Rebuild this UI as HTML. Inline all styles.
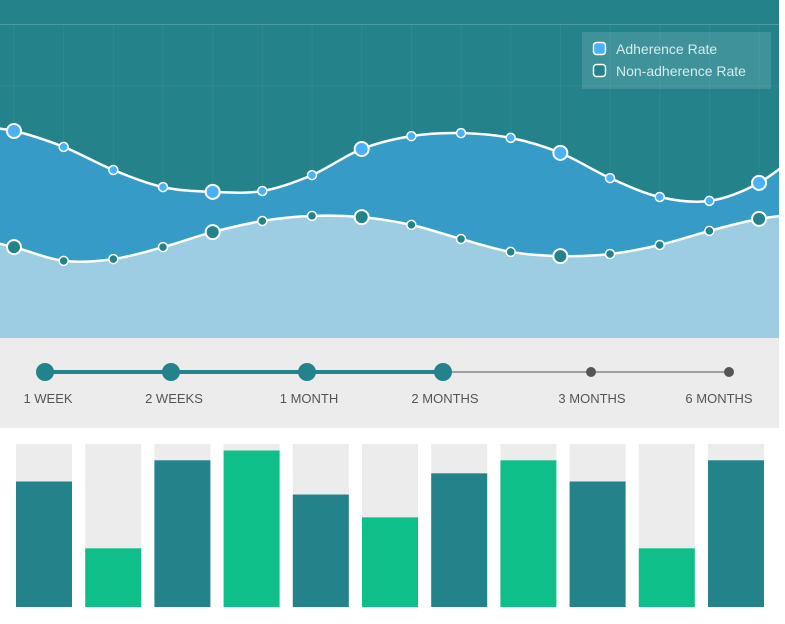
<!DOCTYPE html>
<html><head><meta charset="utf-8"><style>
html,body{margin:0;padding:0;width:785px;height:624px;overflow:hidden;background:#fff;font-family:"Liberation Sans",sans-serif}
</style></head><body>
<svg id="chart" width="785" height="624" xmlns="http://www.w3.org/2000/svg" style="display:block">
<defs><clipPath id="plotClip"><rect x="0" y="0" width="779" height="338"/></clipPath></defs>
<rect x="0" y="0" width="779" height="338" fill="#23828a"/>
<line x1="0" y1="24.5" x2="779" y2="24.5" stroke="rgba(255,255,255,0.2)" stroke-width="1"/>
<g id="grid"></g>
<g clip-path="url(#plotClip)">
<path id="midArea" fill="#369bc7"/>
<path id="lowArea" fill="#9ccde3"/>
<path id="upLine" fill="none" stroke="#fff" stroke-width="2.5"/>
<path id="lowLine" fill="none" stroke="#fff" stroke-width="2.5"/>
<g id="points"></g>
</g>
<g>
<rect x="582" y="32" width="189" height="57" fill="rgba(255,255,255,0.13)"/>
<g>
<rect x="593.5" y="42.5" width="12" height="12" rx="3" fill="#4bb0f5" stroke="#fff" stroke-width="1.5"/>
<text x="616" y="54" font-size="14" fill="#d6ecee">Adherence Rate</text></g>
<g>
<rect x="593.5" y="64.5" width="12" height="12" rx="3" fill="#23828a" stroke="#fff" stroke-width="1.5"/>
<text x="616" y="76" font-size="14" fill="#d6ecee">Non-adherence Rate</text></g>
</g>
<rect x="0" y="338" width="779" height="90" fill="#ececec"/>
<g id="timeline"></g>
<g id="bars"></g>
</svg>
<script>
// Area chart data (index -1 and 16 are off-edge continuation points)
const periods = [-1,0,1,2,3,4,5,6,7,8,9,10,11,12,13,14,15,16];
const adherence = [71,69,63.7,56,50.3,48.7,49,54.3,63,67.3,68.3,66.7,61.7,53.3,47,45.7,51.7,64];
const nonAdherence = [34,30.3,25.7,26.3,30.3,35.3,39,40.7,40.3,37.7,33,28.7,27.3,28,31,35.7,39.7,41.7];
const bigPoints = [0,4,7,11,15];
// Timeline data
const milestones = ['1 WEEK','2 WEEKS','1 MONTH','2 MONTHS','3 MONTHS','6 MONTHS'];
const milestoneDone = [true,true,true,true,false,false];
// Bar chart data
const barValues = [77,36,90,96,69,55,82,90,77,36,90];
const barHighlight = [false,true,false,true,false,true,false,true,false,true,false];

const NS='http://www.w3.org/2000/svg';
function mk(tag,attrs,parent){const e=document.createElementNS(NS,tag);for(const k in attrs)e.setAttribute(k,attrs[k]);parent.appendChild(e);return e;}
const xS=i=>14+i*49.67;
const yS=v=>338-v*3;

const grid=document.getElementById('grid');
for(let i=0;i<16;i++){const l=mk('line',{x1:xS(i),x2:xS(i),y1:25,y2:338,stroke:'rgba(255,255,255,0.06)'},grid);

}
[86,210].forEach(y=>{const l=mk('line',{x1:0,x2:779,y1:y,y2:y,stroke:'rgba(255,255,255,0.06)'},grid);

});

function curve(vals){
  const p=vals.map((v,k)=>[xS(periods[k]),yS(v)]);
  let d='M'+p[0][0]+','+p[0][1];
  for(let i=0;i<p.length-1;i++){
    const p0=p[i-1]||p[i],p1=p[i],p2=p[i+1],p3=p[i+2]||p[i+1];
    const c1=[p1[0]+(p2[0]-p0[0])/6,p1[1]+(p2[1]-p0[1])/6];
    const c2=[p2[0]-(p3[0]-p1[0])/6,p2[1]-(p3[1]-p1[1])/6];
    d+=` C${c1[0]},${c1[1]} ${c2[0]},${c2[1]} ${p2[0]},${p2[1]}`;
  }
  return d;
}
const up=curve(adherence),low=curve(nonAdherence);
const x0=xS(periods[0]),x1=xS(periods[periods.length-1]);
document.getElementById('upLine').setAttribute('d',up);
document.getElementById('lowLine').setAttribute('d',low);
document.getElementById('midArea').setAttribute('d',up+` L${x1},338 L${x0},338 Z`);
document.getElementById('lowArea').setAttribute('d',low+` L${x1},338 L${x0},338 Z`);

const pts=document.getElementById('points');
periods.forEach((p,k)=>{
  if(p<0||p>15)return;
  const big=bigPoints.includes(p);
  const a=mk('circle',{cx:xS(p),cy:yS(adherence[k]),r:big?7:4.5,fill:'#4bb0f5',stroke:'#fff','stroke-width':big?2:1.5},pts);
  
  
  const b=mk('circle',{cx:xS(p),cy:yS(nonAdherence[k]),r:big?7:4.5,fill:'#23828a',stroke:'#fff','stroke-width':big?2:1.5},pts);
  
  
});

// Timeline
const tl=document.getElementById('timeline');
const mx=[45,171,307,443,591,729];
const lx=[48,174,309,445,592,719];
const lastDone=milestoneDone.lastIndexOf(true);
const ln1=mk('line',{x1:mx[0],x2:mx[lastDone],y1:372,y2:372,stroke:'#23828a','stroke-width':4},tl);


const ln2=mk('line',{x1:mx[lastDone],x2:mx[mx.length-1],y1:372,y2:372,stroke:'#555','stroke-width':1},tl);


milestones.forEach((m,i)=>{
  const c=mk('circle',{cx:mx[i],cy:372,r:milestoneDone[i]?9:5,fill:milestoneDone[i]?'#23828a':'#555'},tl);
  
  
  const t=mk('text',{x:lx[i],y:403,'text-anchor':'middle','font-size':13,fill:'#555'},tl);
  t.textContent=m;
  
  
});

// Bars
const bg=document.getElementById('bars');
const bTop=444,bBot=607,bH=bBot-bTop;
barValues.forEach((v,i)=>{
  const x=16+i*69.2;
  const r=mk('rect',{x:x,y:bTop,width:56,height:bH,fill:'#ececec'},bg);
  
  
  const h=v/100*bH;
  const b=mk('rect',{x:x,y:bBot-h,width:56,height:h,fill:barHighlight[i]?'#0fbf8a':'#23828a'},bg);
  
  
});
</script>
</body></html>
